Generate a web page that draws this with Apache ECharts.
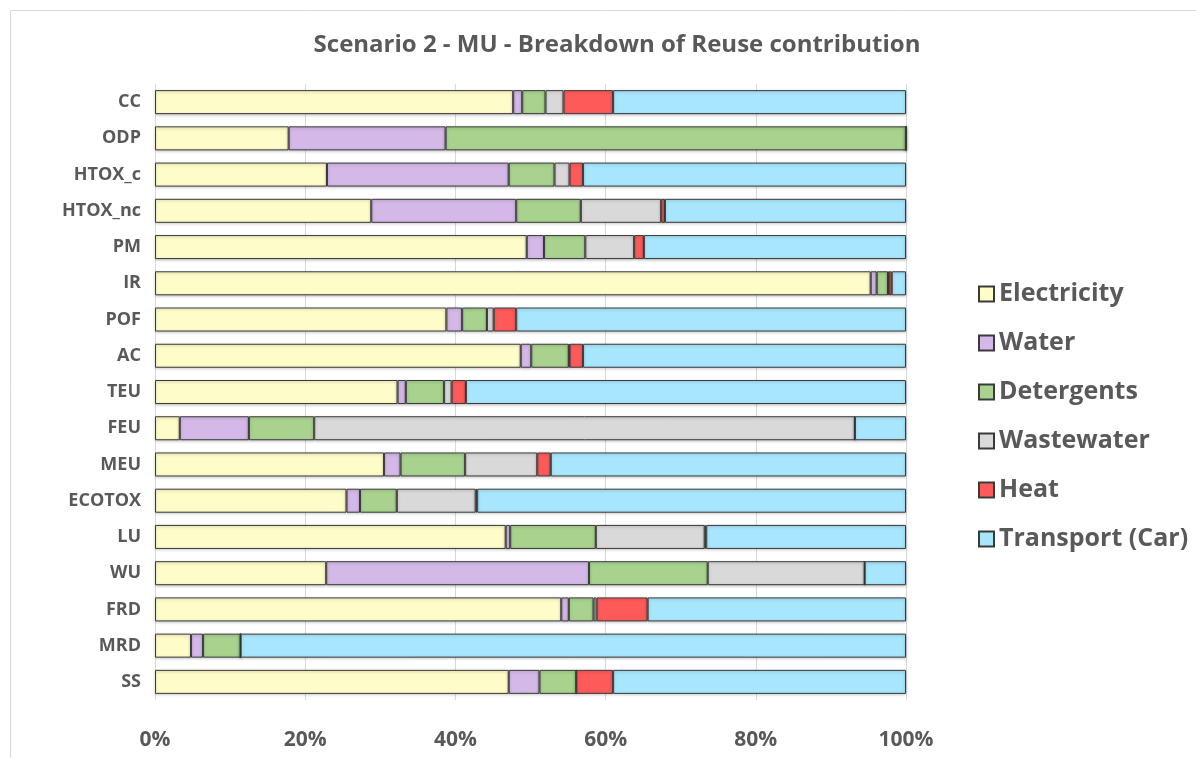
<!DOCTYPE html>
<html>
<head>
<meta charset="utf-8">
<title>Scenario 2 - MU - Breakdown of Reuse contribution</title>
<script src="https://cdn.jsdelivr.net/npm/echarts@6/dist/echarts.min.js"></script>
<style>
  html, body { margin: 0; padding: 0; background: #ffffff; }
  #chart { width: 1196px; height: 758px; }
</style>
</head>
<body>
<div id="chart"></div>
<script>
// Impact categories, top to bottom
const categories = ['CC', 'ODP', 'HTOX_c', 'HTOX_nc', 'PM', 'IR', 'POF', 'AC', 'TEU', 'FEU', 'MEU', 'ECOTOX', 'LU', 'WU', 'FRD', 'MRD', 'SS'];

// Share of each contributor per category (%)
const electricity = [47.7, 17.8, 22.9, 28.8, 49.5, 95.3, 38.8, 48.7, 32.3, 3.3, 30.5, 25.5, 46.7, 22.8, 54.1, 4.8, 47.1];
const water       = [1.2, 20.9, 24.2, 19.3, 2.3, 0.8, 2.1, 1.4, 1.1, 9.2, 2.2, 1.8, 0.6, 35.0, 1.0, 1.6, 4.1];
const detergents  = [3.1, 61.3, 6.1, 8.6, 5.5, 1.5, 3.3, 5.0, 5.1, 8.7, 8.6, 4.9, 11.4, 15.8, 3.3, 5.0, 4.9];
const wastewater  = [2.4, 0, 2.0, 10.7, 6.5, 0.1, 0.9, 0.1, 1.0, 72.0, 9.6, 10.5, 14.5, 20.9, 0.4, 0, 0];
const heat        = [6.6, 0, 1.8, 0.5, 1.3, 0.4, 3.0, 1.8, 1.9, 0, 1.8, 0.2, 0.2, 0, 6.8, 0, 4.9];
const transport   = [39.0, 0, 43.0, 32.1, 34.9, 1.9, 51.9, 43.0, 58.6, 6.8, 47.3, 57.1, 26.6, 5.5, 34.4, 88.6, 39.0];

const xTicks = [0, 20, 40, 60, 80, 100];

const seriesDefs = [
  { name: 'Electricity',     data: electricity, color: '#fefcc8' },
  { name: 'Water',           data: water,       color: '#d4b8e8' },
  { name: 'Detergents',      data: detergents,  color: '#a9d28e' },
  { name: 'Wastewater',      data: wastewater,  color: '#d9d9d9' },
  { name: 'Heat',            data: heat,        color: '#ff5a5a' },
  { name: 'Transport (Car)', data: transport,   color: '#a8e6fd' }
];

const textColor = '#595959';
const chart = echarts.init(document.getElementById('chart'));

chart.setOption({
  backgroundColor: '#ffffff',
  animation: false,
  title: {
    text: 'Scenario 2 - MU - Breakdown of Reuse contribution',
    left: 612,
    textAlign: 'center',
    top: 28,
    textStyle: { color: textColor, fontSize: 24, fontWeight: 'bold', fontFamily: 'Open Sans' }
  },
  graphic: [{
    type: 'rect',
    shape: { x: 10.5, y: 10.5, width: 1200, height: 800 },
    style: { fill: 'none', stroke: '#d9d9d9', lineWidth: 1 },
    silent: true
  }],
  legend: {
    orient: 'vertical',
    left: 973,
    top: 274,
    itemWidth: 15,
    itemHeight: 15,
    itemGap: 19,
    icon: 'rect',
    textStyle: { color: textColor, fontSize: 25, fontWeight: 'bold', fontFamily: 'Open Sans', lineHeight: 30 },
    data: seriesDefs.map(s => s.name)
  },
  grid: { left: 155, right: 290, top: 84, bottom: 58, containLabel: false },
  xAxis: {
    type: 'value',
    min: xTicks[0],
    max: xTicks[xTicks.length - 1],
    interval: xTicks[1] - xTicks[0],
    axisLine: { show: false },
    axisTick: { show: false },
    splitLine: { show: true, lineStyle: { color: '#d9d9d9', width: 1 } },
    axisLabel: {
      formatter: '{value}%',
      color: textColor,
      fontSize: 21,
      fontWeight: 'bold',
      fontFamily: 'Open Sans',
      margin: 30
    }
  },
  yAxis: {
    type: 'category',
    data: categories,
    inverse: true,
    axisLine: { show: false },
    axisTick: { show: false },
    axisLabel: {
      color: textColor,
      fontSize: 18,
      fontWeight: 'bold',
      fontFamily: 'Open Sans',
      margin: 14
    }
  },
  series: seriesDefs.map(s => ({
    name: s.name,
    type: 'bar',
    stack: 'total',
    data: s.data,
    barWidth: 24,
    itemStyle: {
      color: s.color,
      borderColor: '#3a3a3a',
      borderWidth: 1,
      shadowColor: 'rgba(0,0,0,0.25)',
      shadowBlur: 3,
      shadowOffsetY: 1
    }
  }))
});
</script>
</body>
</html>
